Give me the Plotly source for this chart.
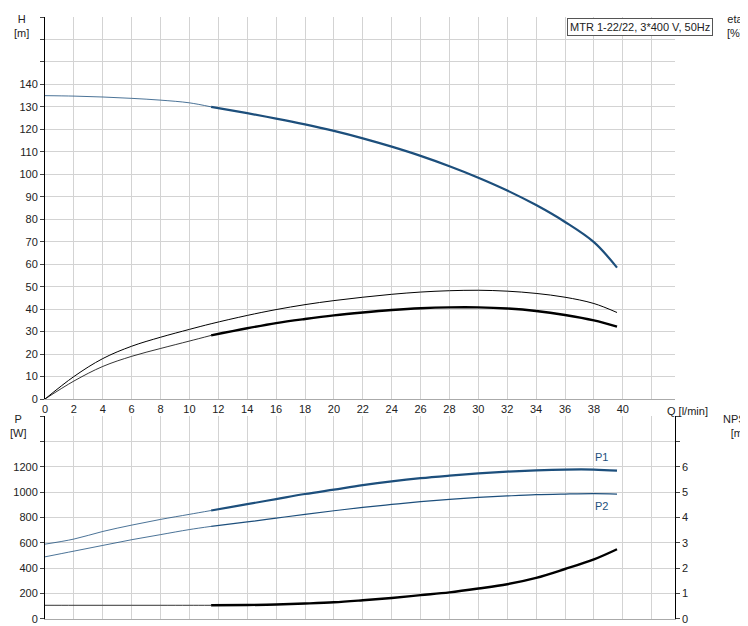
import plotly.graph_objects as go
from plotly.subplots import make_subplots

# duty range starts here, curve is drawn thin before it
Q_DUTY_START = 11.5

q = [0, 2, 4, 6, 8, 10, 11.5, 14, 16, 18, 20, 22, 24, 26, 28, 30, 32, 34, 36, 38, 39.6]
head = [135, 134.8, 134.4, 133.8, 133.0, 131.8, 130.0, 127.2, 124.8, 122.2, 119.3, 116.0, 112.3, 108.2, 103.6, 98.5, 92.8, 86.3, 78.8, 69.8, 58.5]
eta_tot = [0, 10, 18, 23.5, 27.5, 31, 33.5, 37.2, 39.8, 42.0, 43.8, 45.3, 46.6, 47.6, 48.2, 48.4, 48.0, 47.0, 45.3, 42.5, 38.5]
eta_pump = [0, 8, 14.5, 19, 22.5, 25.8, 28.3, 31.5, 33.8, 35.6, 37.2, 38.5, 39.6, 40.4, 40.8, 40.8, 40.3, 39.2, 37.4, 35.0, 32.2]
p1 = [590, 630, 690, 740, 785, 825, 855, 905, 945, 985, 1020, 1055, 1085, 1110, 1130, 1148, 1162, 1172, 1178, 1178, 1170]
p2 = [490, 535, 580, 625, 665, 705, 730, 765, 795, 825, 853, 880, 903, 925, 943, 958, 970, 980, 985, 988, 985]
npsh = [0.54, 0.54, 0.54, 0.54, 0.54, 0.54, 0.54, 0.55, 0.57, 0.61, 0.66, 0.74, 0.83, 0.94, 1.05, 1.2, 1.37, 1.62, 1.97, 2.35, 2.75]

BLUE = "#1d4f7c"
GRID = "#d3d3d3"
FONT = "Liberation Sans, Arial, sans-serif"


def split(xs, ys):
    thin = [(x, y) for x, y in zip(xs, ys) if x <= Q_DUTY_START]
    thick = [(x, y) for x, y in zip(xs, ys) if x >= Q_DUTY_START]
    return [list(t) for t in zip(*thin)], [list(t) for t in zip(*thick)]


fig = make_subplots(rows=2, cols=1, specs=[[{"secondary_y": True}], [{"secondary_y": True}]])

def add_curve(ys, color, row, width_thick, secondary=False, thin_whole=False):
    (tx, ty), (kx, ky) = split(q, ys)
    if thin_whole:
        fig.add_trace(go.Scatter(x=q, y=ys, mode="lines", line=dict(color=color, width=1, shape="spline")),
                      row=row, col=1, secondary_y=secondary)
        return
    fig.add_trace(go.Scatter(x=tx, y=ty, mode="lines", line=dict(color=color, width=0.8, shape="spline")),
                  row=row, col=1, secondary_y=secondary)
    fig.add_trace(go.Scatter(x=kx, y=ky, mode="lines", line=dict(color=color, width=width_thick, shape="spline")),
                  row=row, col=1, secondary_y=secondary)

add_curve(head, BLUE, 1, 2.2)
add_curve(eta_tot, "black", 1, 1, thin_whole=True)
add_curve(eta_pump, "black", 1, 2.4)
add_curve(p1, BLUE, 2, 2.2)
add_curve(p2, BLUE, 2, 1.2)
add_curve(npsh, "black", 2, 2.4, secondary=True)

fig.update_layout(
    width=748, height=626, showlegend=False,
    margin=dict(l=37, r=41, t=9, b=15),
    plot_bgcolor="white", paper_bgcolor="white",
    font=dict(family=FONT, size=11, color="#222"),
)

xticks = list(range(0, 44, 2))
xtext = [str(v) if v <= 40 else "" for v in xticks]
xcommon = dict(range=[0, 43.6], tickvals=xticks, showgrid=True, gridcolor=GRID, automargin=False,
               zeroline=False, showline=True, linecolor="#aaa", mirror=False)
fig.update_xaxes(ticktext=xtext, ticks="", row=1, col=1, **xcommon)
fig.update_xaxes(showticklabels=False, ticks="", row=2, col=1, **xcommon)

ycommon = dict(zeroline=False, showline=True, linecolor="black", ticks="outside", ticklen=4, automargin=False)
hticks = list(range(0, 180, 10))
fig.update_yaxes(range=[0, 170], tickvals=hticks, ticktext=[str(v) if v <= 140 else "" for v in hticks],
                 showgrid=True, gridcolor=GRID, row=1, col=1, secondary_y=False, **ycommon)
fig.update_yaxes(range=[0, 170], tickvals=hticks, ticktext=[str(v) if v <= 80 else "" for v in hticks],
                 showgrid=False, row=1, col=1, secondary_y=True, **ycommon)
pticks = list(range(0, 1800, 200))
fig.update_yaxes(range=[0, 1600], tickvals=pticks, ticktext=[str(v) if v <= 1200 else "" for v in pticks],
                 showgrid=True, gridcolor=GRID, row=2, col=1, secondary_y=False, **ycommon)
nticks = list(range(0, 9))
fig.update_yaxes(range=[0, 8], tickvals=nticks, ticktext=[str(v) if v <= 6 else "" for v in nticks],
                 showgrid=False, row=2, col=1, secondary_y=True, **ycommon)

fig.update_layout(yaxis=dict(domain=[0.3654, 1]), yaxis2=dict(domain=[0.3654, 1]),
                  yaxis3=dict(domain=[0, 0.3372]), yaxis4=dict(domain=[0, 0.3372]))

notes = [
    dict(x=-0.035, y=1.01, text="H<br>[m]", xanchor="center", yanchor="top"),
    dict(x=1.03, y=1.01, text="eta<br>[%]", xanchor="center", yanchor="top"),
    dict(x=-0.04, y=0.345, text="P<br>[W]", xanchor="center", yanchor="top"),
    dict(x=1.035, y=0.345, text="NPSH<br>[m]", xanchor="center", yanchor="top"),
    dict(x=0.925, y=0.346, text="Q [l/min]", xanchor="left", yanchor="middle"),
]
for n in notes:
    fig.add_annotation(xref="paper", yref="paper", showarrow=False, align="center", **n)

fig.add_annotation(xref="paper", yref="paper", x=0.997, y=0.998, xanchor="right", yanchor="top",
                   text="MTR 1-22/22, 3*400 V, 50Hz", showarrow=False,
                   bordercolor="#555", borderwidth=1, borderpad=2, bgcolor="white")
fig.add_annotation(x=39.1, y=1215, xref="x2", yref="y3", text="P1", showarrow=False,
                   font=dict(color=BLUE), yanchor="bottom", xanchor="right")
fig.add_annotation(x=39.1, y=950, xref="x2", yref="y3", text="P2", showarrow=False,
                   font=dict(color=BLUE), yanchor="top", xanchor="right")

fig.write_html("out.html")
